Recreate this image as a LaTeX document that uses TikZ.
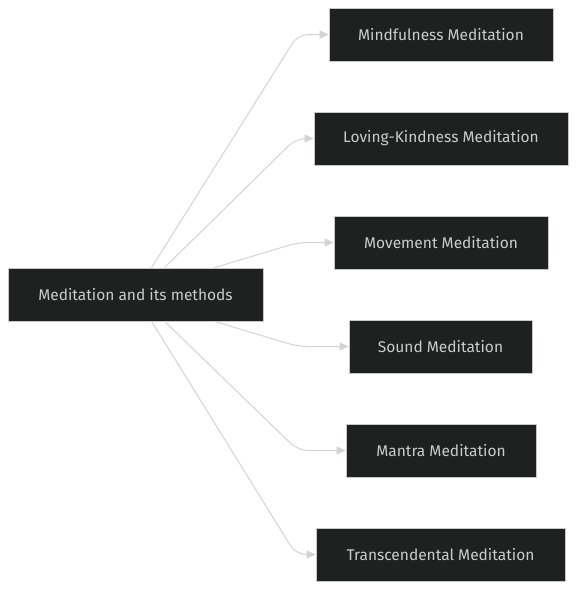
\documentclass[tikz,border=0pt]{standalone}
\usepackage{fontspec}
\setmainfont{Fira Sans}
\usetikzlibrary{arrows.meta,calc}
\definecolor{nodefill}{HTML}{1F2020}
\definecolor{nodeline}{HTML}{C8C8C8}
\definecolor{nodetext}{HTML}{CCCCCC}
\definecolor{edgecol}{HTML}{D3D3D3}
\tikzset{
  box/.style={draw=nodeline, fill=nodefill, text=nodetext, line width=0.8pt,
    minimum height=53pt, inner sep=0pt, font=\fontsize{15.5}{18}\selectfont},
  link/.style={draw=edgecol, line width=1pt, rounded corners=10pt,
    -{Triangle[length=9pt,width=8pt,fill=edgecol]}}
}
\begin{document}
\begin{tikzpicture}[x=1pt,y=-1pt]
\useasboundingbox[fill=white] (0,0) rectangle (576,590);
\node[box, minimum width=255pt] (root) at (135.5,294.5) {Meditation and its methods};
\node[box, minimum width=224pt] (a) at (441,34.5) {Mindfulness Meditation};
\node[box, minimum width=254pt] (b) at (441,138.5) {Loving-Kindness Meditation};
\node[box, minimum width=214pt] (c) at (441,242.5) {Movement Meditation};
\node[box, minimum width=183pt] (d) at (440.5,346.5) {Sound Meditation};
\node[box, minimum width=190pt] (e) at (441,450.5) {Mantra Meditation};
\node[box, minimum width=249pt] (f) at (440.5,554.5) {Transcendental Meditation};
\draw[link] ($(root.north west)+(144,0)$) -- (298,34.5) -- (a.west);
\draw[link] ($(root.north west)+(157,0)$) -- (296,138.5) -- (b.west);
\draw[link] ($(root.north west)+(207,0)$) -- (298,242.5) -- (c.west);
\draw[link] ($(root.south west)+(207,0)$) -- (298,346.5) -- (d.west);
\draw[link] ($(root.south west)+(157,0)$) -- (298,450.5) -- (e.west);
\draw[link] ($(root.south west)+(144,0)$) -- (296,554.5) -- (f.west);
\end{tikzpicture}
\end{document}
